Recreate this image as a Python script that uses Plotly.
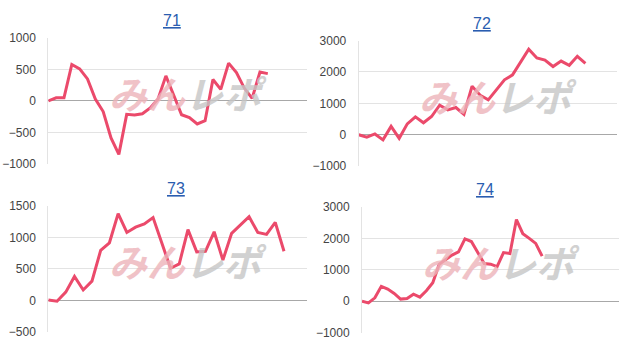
import plotly.graph_objects as go

titles = ["71", "72", "73", "74"]

s71 = [0, 50, 50, 580, 510, 350, 30, -170, -590, -850, -214, -224, -204, -112, 31,
       398, 90, -220, -265, -367, -316, 340, 184, 600, 449, 204, 41, 459, 434]
s72 = [0, -80, 25, -165, 265, -115, 345, 570, 380, 580, 940, 790, 867, 650, 1545,
       1260, 1110, 1440, 1750, 1907, 2300, 2728, 2448, 2377, 2173, 2346, 2213, 2499, 2275]
s73 = [5, -15, 130, 380, 165, 305, 795, 915, 1380, 1080, 1163, 1215, 1316, 900, 510,
       580, 1125, 770, 780, 1090, 640, 1065, 1195, 1330, 1078, 1048, 1240, 780]
s74 = [0, -50, 110, 475, 390, 250, 70, 90, 225, 133, 337, 592, 1180, 1340, 1470,
       1570, 1985, 1900, 1560, 1200, 1180, 1102, 1550, 1520, 2600, 2150, 2000, 1840, 1435]

series = [s71, s72, s73, s74]
y_ranges = [(-1000, 1000), (-1000, 3000), (-500, 1500), (-1000, 3000)]
y_dticks = [500, 1000, 500, 1000]
x_spans = [33.0, 31.9, 29.6, 39.9]

W, H = 624, 350
# plot boxes in pixels: left, right, top, bottom
boxes = [(48.3, 307, 32.3, 163.3), (358.7, 617, 35, 165.7),
         (48.3, 306.7, 207.3, 338.3), (362, 618.7, 208.3, 339.3)]
title_pos = [(171.7, 14), (482, 16.7), (175.8, 189), (484.7, 190)]

LINE = "#EB4A6B"
fig = go.Figure()
layout = dict(width=W, height=H, margin=dict(l=0, r=0, t=0, b=0),
              paper_bgcolor="white", plot_bgcolor="white", showlegend=False,
              annotations=[])

for k in range(4):
    sfx = "" if k == 0 else str(k + 1)
    l, r, t, b = boxes[k]
    # watermark (drawn first so it sits under the titles)
    layout["annotations"].append(dict(
        text='<span style="color:#EDB4BA">みん</span><span style="color:#C6C6C6">レポ</span>',
        x=((l + r) / 2 + 10.5) / W, y=1 - ((t + b) / 2 - 8.5) / H,
        xref="paper", yref="paper", showarrow=False, xanchor="center", yanchor="middle",
        opacity=0.8,
        font=dict(family="Noto Sans CJK JP", size=38, weight="bold", style="italic")))

for k in range(4):
    sfx = "" if k == 0 else str(k + 1)
    vals = series[k]
    fig.add_trace(go.Scatter(x=list(range(len(vals))), y=vals, mode="lines",
                             line=dict(color=LINE, width=3),
                             xaxis="x" + sfx, yaxis="y" + sfx, hoverinfo="skip"))
    l, r, t, b = boxes[k]
    layout["xaxis" + sfx] = dict(domain=[l / W, r / W], range=[0, x_spans[k]],
                                 showgrid=False, zeroline=False, showticklabels=False,
                                 showline=False, anchor="y" + sfx, fixedrange=True)
    layout["yaxis" + sfx] = dict(domain=[1 - b / H, 1 - t / H], range=list(y_ranges[k]),
                                 dtick=y_dticks[k], tick0=0, showgrid=True,
                                 gridcolor="#E3E3E3", gridwidth=1,
                                 zeroline=True, zerolinecolor="#A8A8A8", zerolinewidth=1,
                                 showline=True, linecolor="#E3E3E3", linewidth=1,
                                 ticks="", ticklabelstandoff=9,
                                 tickfont=dict(family="Liberation Sans, Arial", size=12,
                                               color="#444444"),
                                 anchor="x" + sfx, fixedrange=True)
    tx, ty = title_pos[k]
    layout["annotations"].append(dict(
        text='<span style="text-decoration:underline">' + titles[k] + '</span>',
        x=tx / W, y=1 - ty / H, xref="paper", yref="paper", showarrow=False,
        xanchor="center", yanchor="middle",
        font=dict(family="Liberation Sans, Arial", size=16, color="#2A5DB0")))

fig.update_layout(**layout)
fig.write_html("out.html")
